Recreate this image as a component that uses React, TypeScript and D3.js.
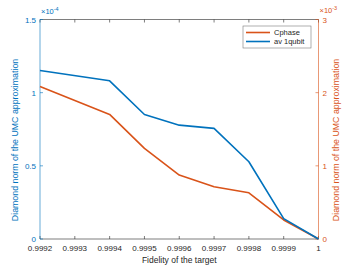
import React from 'react'
import * as d3 from 'd3'

const fidelity = [0.9992, 0.9994, 0.9995, 0.9996, 0.9997, 0.9998, 0.9999, 1]
// av 1qubit, left axis (x 1e-4)
const av1qubit = [1.152, 1.081, 0.851, 0.778, 0.756, 0.528, 0.139, 0]
// Cphase, right axis (x 1e-3)
const cphase = [2.085, 1.703, 1.238, 0.874, 0.714, 0.632, 0.26, 0]

const xTicks = [0.9992, 0.9993, 0.9994, 0.9995, 0.9996, 0.9997, 0.9998, 0.9999, 1]
const leftTicks = [0, 0.5, 1, 1.5]
const rightTicks = [0, 1, 2, 3]

const BLUE = '#0072BD'
const ORANGE = '#D95319'
const GRAY = '#262626'
const FONT = 'Liberation Sans, Arial, sans-serif'

export default function App() {
  const W = 358
  const H = 273
  const m = { left: 40, right: 318.5, top: 19.5, bottom: 239 }

  const x = d3.scaleLinear().domain([0.9992, 1]).range([m.left, m.right])
  const yL = d3.scaleLinear().domain([0, 1.5]).range([m.bottom, m.top])
  const yR = d3.scaleLinear().domain([0, 3]).range([m.bottom, m.top])

  const lineL = d3.line<number>().x((_, i) => x(fidelity[i])).y(d => yL(d))
  const lineR = d3.line<number>().x((_, i) => x(fidelity[i])).y(d => yR(d))

  const tk = 3
  const fmtX = (v: number) => (v === 1 ? '1' : v.toFixed(4))

  return (
    <svg width={W} height={H} style={{ position: 'absolute', left: 0, top: 0, background: '#fff' }} fontFamily={FONT}>
      {/* top and bottom edges */}
      <line x1={m.left} x2={m.right} y1={m.top} y2={m.top} stroke={GRAY} strokeWidth={0.6} />
      <line x1={m.left} x2={m.right} y1={m.bottom} y2={m.bottom} stroke={GRAY} strokeWidth={0.6} />
      {xTicks.map(t => (
        <g key={t}>
          <line x1={x(t)} x2={x(t)} y1={m.bottom} y2={m.bottom - tk} stroke={GRAY} strokeWidth={0.6} />
          <line x1={x(t)} x2={x(t)} y1={m.top} y2={m.top + tk} stroke={GRAY} strokeWidth={0.6} />
          <text x={x(t)} y={m.bottom + 11.5} fontSize={8} fill={GRAY} textAnchor="middle">{fmtX(t)}</text>
        </g>
      ))}
      <text x={(m.left + m.right) / 2} y={263} fontSize={8.5} fill={GRAY} textAnchor="middle">Fidelity of the target</text>

      {/* left axis */}
      <line x1={m.left} x2={m.left} y1={m.top} y2={m.bottom} stroke={BLUE} strokeWidth={0.6} />
      {leftTicks.map(t => (
        <g key={t}>
          <line x1={m.left} x2={m.left + tk} y1={yL(t)} y2={yL(t)} stroke={BLUE} strokeWidth={0.6} />
          <text x={m.left - 4} y={yL(t) + 3} fontSize={8} fill={BLUE} textAnchor="end">{t}</text>
        </g>
      ))}
      <text x={m.left + 1} y={14} fontSize={7.5} fill={BLUE}>
        ×10<tspan dy={-3} fontSize={5.5}>-4</tspan>
      </text>
      <text transform={`translate(17.5,140) rotate(-90)`} fontSize={8.8} fill={BLUE} textAnchor="middle">
        Diamond norm of the UMC approximation
      </text>

      {/* right axis */}
      <line x1={m.right} x2={m.right} y1={m.top} y2={m.bottom} stroke={ORANGE} strokeWidth={0.6} />
      {rightTicks.map(t => (
        <g key={t}>
          <line x1={m.right} x2={m.right - tk} y1={yR(t)} y2={yR(t)} stroke={ORANGE} strokeWidth={0.6} />
          <text x={m.right + 4} y={yR(t) + 3} fontSize={8} fill={ORANGE}>{t}</text>
        </g>
      ))}
      <text x={m.right + 1} y={13} fontSize={7.5} fill={ORANGE}>
        ×10<tspan dy={-3} fontSize={5.5}>-3</tspan>
      </text>
      <text transform={`translate(339,140) rotate(-90)`} fontSize={8.8} fill={ORANGE} textAnchor="middle">
        Diamond norm of the UMC approximation
      </text>

      {/* series */}
      <path d={lineR(cphase) ?? ''} fill="none" stroke={ORANGE} strokeWidth={1.6} strokeLinejoin="round" />
      <path d={lineL(av1qubit) ?? ''} fill="none" stroke={BLUE} strokeWidth={1.6} strokeLinejoin="round" />

      {/* legend */}
      <g transform="translate(243,26)">
        <rect width={68} height={22} fill="#fff" stroke="#7a7a7a" strokeWidth={0.6} />
        <line x1={3} x2={27} y1={6.5} y2={6.5} stroke={ORANGE} strokeWidth={1.6} />
        <text x={31} y={9.3} fontSize={7.5} fill={GRAY}>Cphase</text>
        <line x1={3} x2={27} y1={15.5} y2={15.5} stroke={BLUE} strokeWidth={1.6} />
        <text x={31} y={18.3} fontSize={7.5} fill={GRAY}>av 1qubit</text>
      </g>
    </svg>
  )
}
